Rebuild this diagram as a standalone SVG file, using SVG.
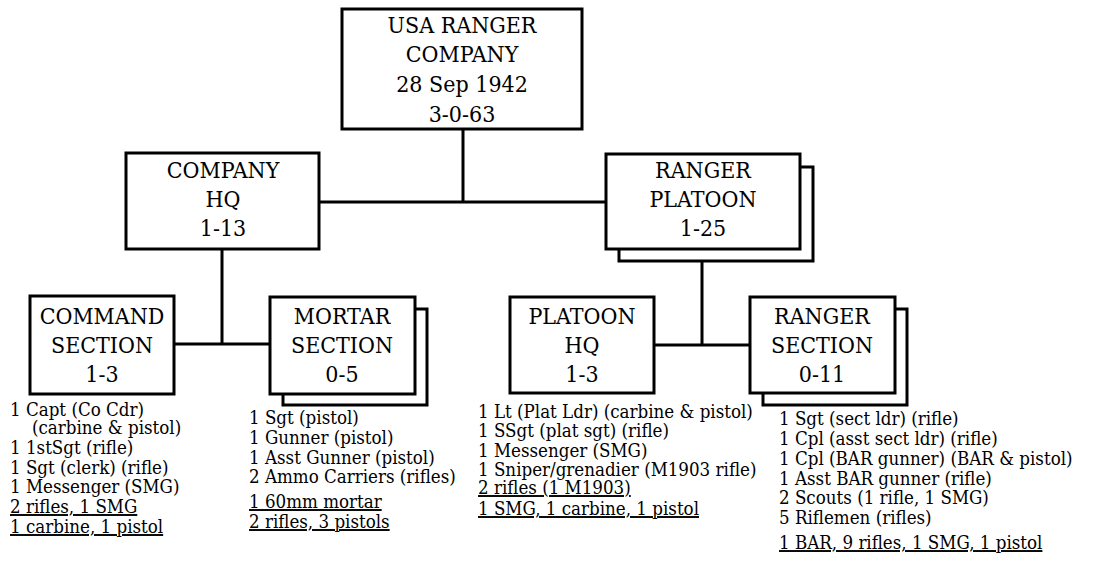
<svg xmlns="http://www.w3.org/2000/svg" width="1099" height="571" viewBox="0 0 1099 571">
<style>
.box{fill:#fff;stroke:#000;stroke-width:3}
.sh{fill:none;stroke:#000;stroke-width:3}
.t{font-family:'DejaVu Serif',serif;font-size:22px;text-anchor:middle;fill:#000}
.s{font-family:'DejaVu Serif',serif;font-size:19px;fill:#000}
.u{text-decoration:underline}
.c{fill:none;stroke:#000;stroke-width:3}
</style>
<rect width="1099" height="571" fill="#fff"/>
<g id="connectors">
<path class="c" d="M463 129V202M319 202H606M222 249V344M174 344H270M702 261V345M654 345H750"/>
</g>
<g id="company">
<rect class="box" x="342" y="9" width="240" height="120"/>
<g transform="translate(462,0) scale(0.94,1)">
<text class="t" x="0" y="33">USA RANGER</text>
<text class="t" x="0" y="62">COMPANY</text>
<text class="t" x="0" y="92">28 Sep 1942</text>
<text class="t" x="0" y="122">3-0-63</text>
</g>
</g>
<g id="company-hq">
<rect class="box" x="126" y="153" width="193" height="96"/>
<g transform="translate(223,0) scale(0.94,1)">
<text class="t" x="0" y="178">COMPANY</text>
<text class="t" x="0" y="207">HQ</text>
<text class="t" x="0" y="236">1-13</text>
</g>
</g>
<g id="ranger-platoon">
<path class="sh" d="M800 167H813V261H619V249"/>
<rect class="box" x="606" y="154" width="194" height="95"/>
<g transform="translate(703,0) scale(0.94,1)">
<text class="t" x="0" y="178">RANGER</text>
<text class="t" x="0" y="207">PLATOON</text>
<text class="t" x="0" y="236">1-25</text>
</g>
</g>
<g id="command-section">
<rect class="box" x="30" y="296" width="144" height="98"/>
<g transform="translate(102,0) scale(0.94,1)">
<text class="t" x="0" y="324">COMMAND</text>
<text class="t" x="0" y="353">SECTION</text>
<text class="t" x="0" y="382">1-3</text>
</g>
<g transform="translate(10,0) scale(0.88,1)">
<text class="s" x="0" y="416">1 Capt (Co Cdr)</text>
<text class="s" x="25" y="434">(carbine &amp; pistol)</text>
<text class="s" x="0" y="454">1 1stSgt (rifle)</text>
<text class="s" x="0" y="474">1 Sgt (clerk) (rifle)</text>
<text class="s" x="0" y="493">1 Messenger (SMG)</text>
<text class="s u" x="0" y="513">2 rifles, 1 SMG</text>
<text class="s u" x="0" y="533">1 carbine, 1 pistol</text>
</g>
</g>
<g id="mortar-section">
<path class="sh" d="M415 309H427V405H283V394"/>
<rect class="box" x="270" y="297" width="145" height="97"/>
<g transform="translate(342,0) scale(0.94,1)">
<text class="t" x="0" y="324">MORTAR</text>
<text class="t" x="0" y="353">SECTION</text>
<text class="t" x="0" y="382">0-5</text>
</g>
<g transform="translate(249,0) scale(0.88,1)">
<text class="s" x="0" y="424">1 Sgt (pistol)</text>
<text class="s" x="0" y="444">1 Gunner (pistol)</text>
<text class="s" x="0" y="464">1 Asst Gunner (pistol)</text>
<text class="s" x="0" y="483">2 Ammo Carriers (rifles)</text>
<text class="s u" x="0" y="508">1 60mm mortar</text>
<text class="s u" x="0" y="528">2 rifles, 3 pistols</text>
</g>
</g>
<g id="platoon-hq">
<rect class="box" x="510" y="297" width="144" height="96"/>
<g transform="translate(582,0) scale(0.94,1)">
<text class="t" x="0" y="324">PLATOON</text>
<text class="t" x="0" y="353">HQ</text>
<text class="t" x="0" y="382">1-3</text>
</g>
<g transform="translate(478,0) scale(0.88,1)">
<text class="s" x="0" y="418">1 Lt (Plat Ldr) (carbine &amp; pistol)</text>
<text class="s" x="0" y="437">1 SSgt (plat sgt) (rifle)</text>
<text class="s" x="0" y="457">1 Messenger (SMG)</text>
<text class="s" x="0" y="476">1 Sniper/grenadier (M1903 rifle)</text>
<text class="s u" x="0" y="494">2 rifles (1 M1903)</text>
<text class="s u" x="0" y="515">1 SMG, 1 carbine, 1 pistol</text>
</g>
</g>
<g id="ranger-section">
<path class="sh" d="M895 309H907V405H763V393"/>
<rect class="box" x="750" y="297" width="145" height="96"/>
<g transform="translate(822,0) scale(0.94,1)">
<text class="t" x="0" y="324">RANGER</text>
<text class="t" x="0" y="353">SECTION</text>
<text class="t" x="0" y="382">0-11</text>
</g>
<g transform="translate(779,0) scale(0.88,1)">
<text class="s" x="0" y="425">1 Sgt (sect ldr) (rifle)</text>
<text class="s" x="0" y="445">1 Cpl (asst sect ldr) (rifle)</text>
<text class="s" x="0" y="465">1 Cpl (BAR gunner) (BAR &amp; pistol)</text>
<text class="s" x="0" y="485">1 Asst BAR gunner (rifle)</text>
<text class="s" x="0" y="504">2 Scouts (1 rifle, 1 SMG)</text>
<text class="s" x="0" y="524">5 Riflemen (rifles)</text>
<text class="s u" x="0" y="549">1 BAR, 9 rifles, 1 SMG, 1 pistol</text>
</g>
</g>
</svg>
